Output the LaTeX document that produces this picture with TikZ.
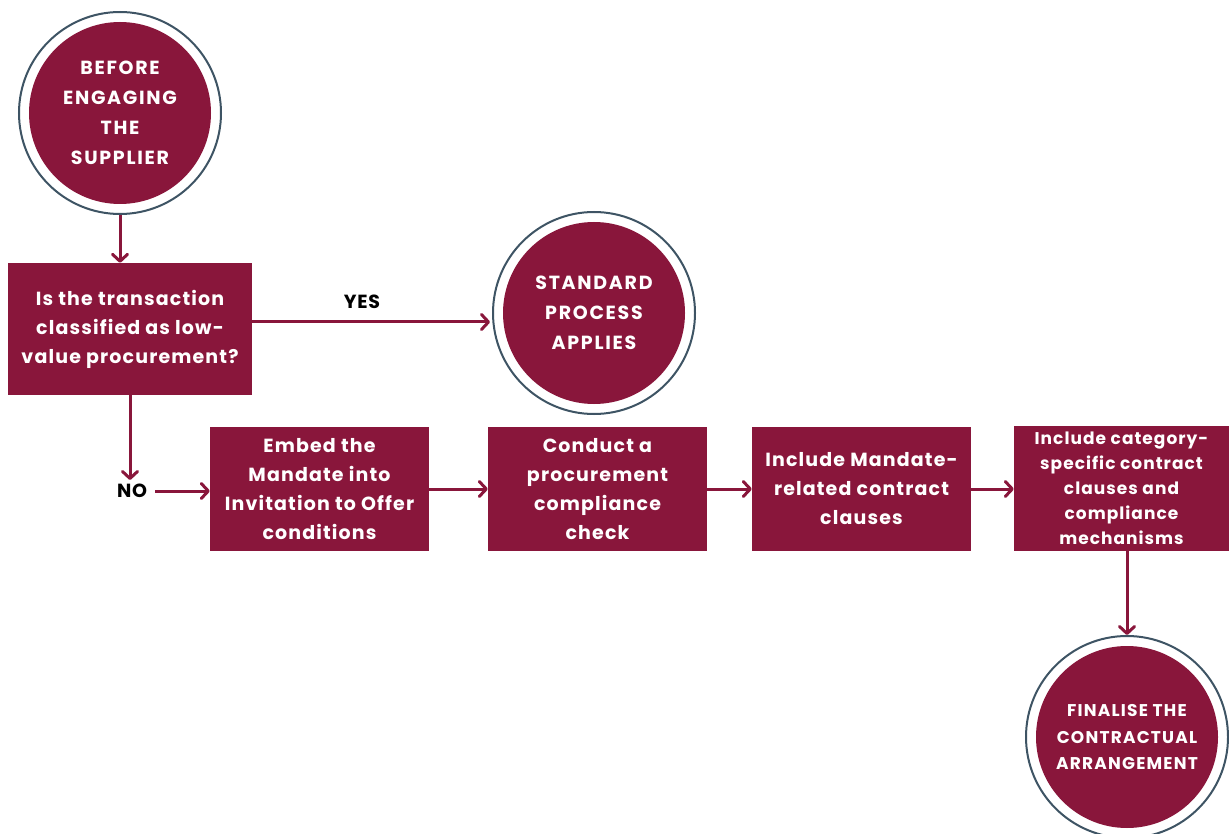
\documentclass[tikz,border=0pt]{standalone}
\usepackage{fontspec}
\setmainfont{Poppins}
\usepackage{tikz}
\usetikzlibrary{arrows.meta}
\definecolor{maroon}{RGB}{137,22,59}
\definecolor{slate}{RGB}{62,84,100}
\tikzset{
    stepbox/.style={fill=maroon, text=white, inner sep=0pt, align=center, font=\bfseries\fontsize{19}{29}\selectfont\addfontfeatures{LetterSpace=6}},
    endcircle/.style={circle, draw=slate, line width=2pt, fill=white, minimum size=202pt, inner sep=0pt, text=white, align=center,
        font=\bfseries\fontsize{19}{30}\selectfont\addfontfeatures{LetterSpace=9},
        path picture={\fill[maroon](path picture bounding box.center)circle(91pt);}},
    flow/.style={maroon, line width=3pt, -{Straight Barb[length=7pt, width=15pt, line cap=round, line join=round]}},
    answer/.style={inner sep=4pt, font=\bfseries\fontsize{19}{24}\selectfont\addfontfeatures{LetterSpace=4}}
}
\begin{document}
\begin{tikzpicture}[x=1pt, y=-1pt]
            \useasboundingbox(0, 0)rectangle(1229, 834);
            \node[endcircle](start)at(120, 113){BEFORE\\ENGAGING\\THE\\SUPPLIER};
            \node[stepbox, minimum width=244pt, minimum height=132pt](question)at(130, 329){Is the transaction\\classified as low-\\value procurement?};
            \node[endcircle](standard)at(594, 313){STANDARD\\PROCESS\\APPLIES};
            \node[answer](yeslabel)at(362, 302){YES};
            \node[answer, inner xsep=8pt](no)at(132, 491){NO};
            \node[stepbox, minimum width=219pt, minimum height=124pt](embed)at(319.5, 489){Embed the\\Mandate into\\Invitation to Offer\\conditions};
            \node[stepbox, minimum width=219pt, minimum height=124pt](check)at(597.5, 489){Conduct a\\procurement\\compliance\\check};
            \node[stepbox, minimum width=219pt, minimum height=124pt](clauses)at(861.5, 489){Include Mandate-\\related contract\\clauses};
            \node[stepbox, minimum width=215pt, minimum height=125pt, font=\bfseries\fontsize{17}{25}\selectfont\addfontfeatures{LetterSpace=6}](category)at(1121.5, 488){Include category-\\specific contract\\clauses and\\compliance\\mechanisms};
            \node[endcircle, font=\bfseries\fontsize{17}{26.5}\selectfont\addfontfeatures{LetterSpace=7}](final)at(1127, 737){FINALISE THE\\CONTRACTUAL\\ARRANGEMENT};
            \coordinate(yes)at(490, 322);
            \draw[flow](start.south)--(start.south |- question.north);
            \draw[flow](question.east |- yes)--(yes);
            \draw[flow](question.south)--(question.south |- no.north);
            \draw[flow](no.east)--(no.east -| embed.west);
            \draw[flow](embed.east)--(check.west);
            \draw[flow](check.east)--(clauses.west);
            \draw[flow](clauses.east)--(clauses.east -| category.west);
            \draw[flow](category.south -| final)--(final.north);
        \end{tikzpicture}
\end{document}
